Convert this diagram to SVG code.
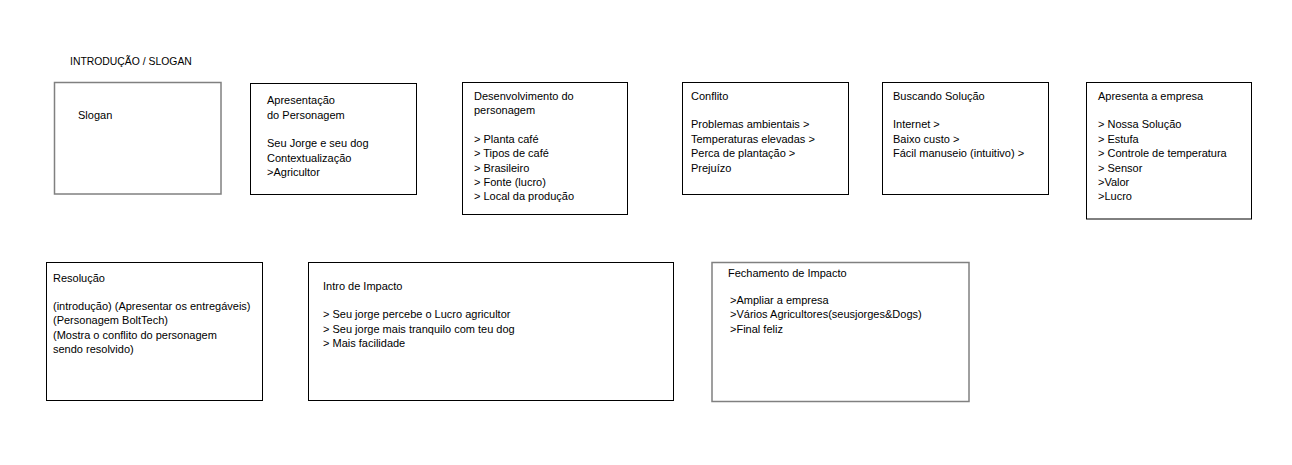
<svg xmlns="http://www.w3.org/2000/svg" width="1292" height="465" viewBox="0 0 1292 465">
<style>
.box{fill:#fff;stroke:#000;stroke-width:1}
.gbox{fill:#fff;stroke:#808080;stroke-width:1.5}
text{font-family:"Liberation Sans",Arial,sans-serif;font-size:11px;fill:#000}
.title{font-size:10.4px}
</style>
<rect width="1292" height="465" fill="#fff"/>
<g id="connectors"></g>
<text class="title" x="70" y="65">INTRODUÇÃO / SLOGAN</text>
<g id="slogan">
<rect class="gbox" x="54.5" y="82.5" width="166.5" height="111.5"/>
<text x="78" y="119">Slogan</text>
</g>
<g id="apresentacao">
<rect class="box" x="250.5" y="83.5" width="166" height="111"/>
<text x="267" y="104.3">Apresentação</text>
<text x="267" y="118.7">do Personagem</text>
<text x="267" y="147.3">Seu Jorge e seu dog</text>
<text x="267" y="161.7">Contextualização</text>
<text x="267" y="176">&gt;Agricultor</text>
</g>
<g id="desenvolvimento">
<rect class="box" x="462.5" y="82.5" width="165" height="132"/>
<text x="474" y="100">Desenvolvimento do</text>
<text x="474" y="114.4">personagem</text>
<text x="474" y="142.8">&gt; Planta café</text>
<text x="474" y="157.1">&gt; Tipos de café</text>
<text x="474" y="171.5">&gt; Brasileiro</text>
<text x="474" y="185.8">&gt; Fonte (lucro)</text>
<text x="474" y="200.2">&gt; Local da produção</text>
</g>
<g id="conflito">
<rect class="box" x="682.5" y="82.5" width="166" height="112"/>
<text x="691" y="100">Conflito</text>
<text x="691" y="128.4">Problemas ambientais &gt;</text>
<text x="691" y="142.8">Temperaturas elevadas &gt;</text>
<text x="691" y="157.1">Perca de plantação &gt;</text>
<text x="691" y="171.5">Prejuízo</text>
</g>
<g id="buscando">
<rect class="box" x="882.5" y="82.5" width="166" height="112"/>
<text x="893" y="100">Buscando Solução</text>
<text x="893" y="128.4">Internet &gt;</text>
<text x="893" y="142.8">Baixo custo &gt;</text>
<text x="893" y="157.1">Fácil manuseio (intuitivo) &gt;</text>
</g>
<g id="empresa">
<rect class="box" x="1086.5" y="82.5" width="165" height="136.5"/>
<text x="1098" y="100">Apresenta a empresa</text>
<text x="1098" y="128.4">&gt; Nossa Solução</text>
<text x="1098" y="142.8">&gt; Estufa</text>
<text x="1098" y="157.1">&gt; Controle de temperatura</text>
<text x="1098" y="171.5">&gt; Sensor</text>
<text x="1098" y="185.8">&gt;Valor</text>
<text x="1098" y="200.2">&gt;Lucro</text>
</g>
<g id="resolucao">
<rect class="box" x="46.5" y="262.5" width="216" height="138"/>
<text x="53" y="282.3">Resolução</text>
<text x="53" y="310">(introdução) (Apresentar os entregáveis)</text>
<text x="53" y="324.3">(Personagem BoltTech)</text>
<text x="53" y="338.7">(Mostra o conflito do personagem</text>
<text x="53" y="353">sendo resolvido)</text>
</g>
<g id="intro-impacto">
<rect class="box" x="308.5" y="262.5" width="365" height="138"/>
<text x="323" y="290">Intro de Impacto</text>
<text x="323" y="318.3">&gt; Seu jorge percebe o Lucro agricultor</text>
<text x="323" y="332.7">&gt; Seu jorge mais tranquilo com teu dog</text>
<text x="323" y="347">&gt; Mais facilidade</text>
</g>
<g id="fechamento">
<rect class="gbox" x="712" y="262.5" width="257" height="139"/>
<text x="728" y="276.7">Fechamento de Impacto</text>
<text x="730" y="304">&gt;Ampliar a empresa</text>
<text x="730" y="318.3">&gt;Vários Agricultores(seusjorges&amp;Dogs)</text>
<text x="730" y="332.7">&gt;Final feliz</text>
</g>
</svg>
